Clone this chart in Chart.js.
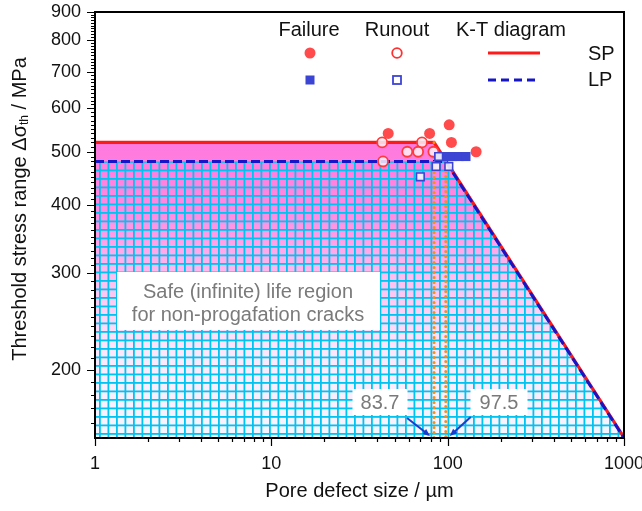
<!DOCTYPE html>
<html>
<head>
<meta charset="utf-8">
<script src="https://cdn.jsdelivr.net/npm/chart.js@4.4.1/dist/chart.umd.min.js"></script>
<style>
  html, body { margin: 0; padding: 0; background: #fff; }
  #wrap { width: 642px; height: 511px; }
</style>
</head>
<body>
<div id="wrap"><canvas id="kt" width="642" height="511"></canvas></div>
<script>
// Kitagawa-Takahashi diagram, SP vs LP specimens
const spKnee = 83.7;
const lpKnee = 97.5;
const spLineX = [1, spKnee, 1000];
const spLineY = [520, 520, 150.4];
const lpLineX = [1, lpKnee, 1000];
const lpLineY = [480, 480, 150];

const spFailX = [46, 79, 102, 105, 145];
const spFailY = [540, 540, 560, 520, 500];
const spRunX = [42.5, 71.5, 59, 68, 83, 43];
const spRunY = [520, 520, 500, 500, 500, 480];
const lpFailX = [89, 97, 106, 116, 127];
const lpFailY = [490, 490, 490, 490, 490];
const lpRunX = [89, 86, 101.5, 70];
const lpRunY = [490, 470, 470, 450];

const xMajor = [1, 10, 100, 1000];
const yMajor = [200, 300, 400, 500, 600, 700, 800, 900];

const xTicks = [];
for (let d = 1; d < 1000; d *= 10) for (let k = 1; k < 10; k++) xTicks.push(d * k);
xTicks.push(1000);
const yTicks = [];
for (let v = 160; v <= 900; v += 10) yTicks.push(v);

const FONT = "'Liberation Sans', Arial, sans-serif";
const RED = '#ff1a1a', BLUE = '#1616c8', PT_RED = 'rgba(255,60,60,0.92)', PT_BLUE = '#3c44d4';

const pts = (xs, ys) => xs.map((x, i) => ({ x, y: ys[i] }));

function pinkFill(c) {
  const a = c.chart.chartArea;
  if (!a) return null;
  const g = c.chart.ctx.createLinearGradient(0, a.top, 0, a.bottom);
  g.addColorStop(0.30, '#ff78de');
  g.addColorStop(0.47, '#ff8ae2');
  g.addColorStop(0.63, '#fcc0f0');
  g.addColorStop(0.80, '#fbe7fc');
  g.addColorStop(1.00, '#f5f5ff');
  return g;
}

let gridPat = null;
function gridFill(c) {
  const a = c.chart.chartArea;
  if (!a) return null;
  if (!gridPat) {
    const t = document.createElement('canvas');
    t.width = 17; t.height = 17;
    const g = t.getContext('2d');
    g.fillStyle = 'rgb(0,196,240)';
    g.fillRect(0, 0, 1.8, 17); g.fillRect(8.5, 0, 1.8, 17);
    g.fillRect(0, 0, 17, 1.8); g.fillRect(0, 8.5, 17, 1.8);
    gridPat = c.chart.ctx.createPattern(t, 'repeat');
    gridPat.setTransform(new DOMMatrix().translate(a.left + 4, a.bottom - 5));
  }
  return gridPat;
}

function arrow(ctx, x0, y0, x1, y1) {
  const ang = Math.atan2(y1 - y0, x1 - x0), h = 8;
  ctx.beginPath(); ctx.moveTo(x0, y0);
  ctx.lineTo(x1 - Math.cos(ang) * h * 0.8, y1 - Math.sin(ang) * h * 0.8); ctx.stroke();
  ctx.beginPath(); ctx.moveTo(x1, y1);
  ctx.lineTo(x1 - h * Math.cos(ang - 0.4), y1 - h * Math.sin(ang - 0.4));
  ctx.lineTo(x1 - h * Math.cos(ang + 0.4), y1 - h * Math.sin(ang + 0.4));
  ctx.closePath(); ctx.fill();
}

function labelBox(ctx, txt, cx, cy, w, h) {
  ctx.fillStyle = '#fff';
  ctx.fillRect(cx - w / 2, cy - h / 2, w, h);
  ctx.fillStyle = '#7a7a7a';
  ctx.textAlign = 'center'; ctx.textBaseline = 'middle';
  ctx.fillText(txt, cx, cy + 1);
}

const deco = {
  id: 'deco',
  afterDatasetsDraw(chart) {
    const { ctx, chartArea: a, scales: { x, y } } = chart;
    ctx.save();

    // notes inside the plot
    ctx.font = `20px ${FONT}`;
    ctx.fillStyle = '#fff';
    ctx.fillRect(117, 272, 263, 58);
    ctx.fillStyle = '#7a7a7a';
    ctx.textAlign = 'center'; ctx.textBaseline = 'middle';
    ctx.fillText('Safe (infinite) life region', 248, 292);
    ctx.fillText('for non-progafation cracks', 248, 315);

    labelBox(ctx, String(spKnee), 380, 402, 55, 26);
    labelBox(ctx, String(lpKnee), 499, 402, 57, 26);

    ctx.strokeStyle = '#1a3ccc'; ctx.fillStyle = '#1a3ccc'; ctx.lineWidth = 2;
    const xs = x.getPixelForValue(spKnee), xl = x.getPixelForValue(lpKnee);
    arrow(ctx, xs - 27, a.bottom - 20, xs - 4, a.bottom - 2);
    arrow(ctx, xl + 25, a.bottom - 21, xl + 4, a.bottom - 2);

    // frame and ticks
    ctx.strokeStyle = '#000';
    ctx.lineWidth = 1.2;
    ctx.beginPath();
    yTicks.forEach(v => {
      const p = Math.round(y.getPixelForValue(v)) + 0.5;
      const len = yMajor.includes(v) ? 8 : 4;
      ctx.moveTo(a.left - len, p); ctx.lineTo(a.left, p);
    });
    xTicks.forEach(v => {
      const p = Math.round(x.getPixelForValue(v)) + 0.5;
      const len = xMajor.includes(v) ? 8 : 4;
      ctx.moveTo(p, a.bottom); ctx.lineTo(p, a.bottom + len);
    });
    ctx.stroke();
    ctx.lineWidth = 2;
    ctx.strokeRect(a.left, a.top, a.right - a.left, a.bottom - a.top);

    // legend
    ctx.fillStyle = '#111';
    ctx.font = `20px ${FONT}`;
    ctx.textAlign = 'center'; ctx.textBaseline = 'middle';
    ctx.fillText('Failure', 309, 30);
    ctx.fillText('Runout', 397, 30);
    ctx.fillText('K-T diagram', 511, 30);
    ctx.textAlign = 'left';
    ctx.fillText('SP', 588, 54);
    ctx.fillText('LP', 588, 80);

    ctx.fillStyle = PT_RED;
    ctx.beginPath(); ctx.arc(310, 53, 5.5, 0, Math.PI * 2); ctx.fill();
    ctx.strokeStyle = '#ff3030'; ctx.lineWidth = 1.8; ctx.fillStyle = '#fff';
    ctx.beginPath(); ctx.arc(397, 53, 4.8, 0, Math.PI * 2); ctx.fill(); ctx.stroke();
    ctx.fillStyle = PT_BLUE;
    ctx.fillRect(305.5, 75.5, 9, 9);
    ctx.strokeStyle = PT_BLUE; ctx.fillStyle = '#fff';
    ctx.fillRect(393, 76, 8, 8); ctx.strokeRect(393, 76, 8, 8);
    ctx.lineWidth = 3;
    ctx.strokeStyle = RED;
    ctx.beginPath(); ctx.moveTo(488, 53); ctx.lineTo(540, 53); ctx.stroke();
    ctx.strokeStyle = BLUE; ctx.setLineDash([8, 5]);
    ctx.beginPath(); ctx.moveTo(488, 80); ctx.lineTo(540, 80); ctx.stroke();
    ctx.setLineDash([]);

    // axis titles
    ctx.fillStyle = '#111';
    ctx.textAlign = 'center'; ctx.textBaseline = 'middle';
    ctx.font = `20px ${FONT}`;
    ctx.fillText('Pore defect size / \u00b5m', (a.left + a.right) / 2, 491);

    ctx.translate(20, 209);
    ctx.rotate(-Math.PI / 2);
    const p1 = 'Threshold stress range \u0394\u03c3', p2 = 'th', p3 = ' / MPa';
    ctx.font = `20px ${FONT}`;
    const w1 = ctx.measureText(p1).width, w3 = ctx.measureText(p3).width;
    ctx.font = `12px ${FONT}`;
    const w2 = ctx.measureText(p2).width;
    let sx = -(w1 + w2 + w3) / 2;
    ctx.textAlign = 'left';
    ctx.font = `20px ${FONT}`;
    ctx.fillText(p1, sx, 0); sx += w1;
    ctx.font = `12px ${FONT}`;
    ctx.fillText(p2, sx, 5); sx += w2;
    ctx.font = `20px ${FONT}`;
    ctx.fillText(p3, sx, 0);
    ctx.restore();
  }
};

const datasets = [
  { label: 'LP runout', data: pts(lpRunX, lpRunY), order: 0, pointStyle: 'rect', pointRadius: 5.4,
    backgroundColor: 'rgba(245,245,255,0.9)', borderColor: PT_BLUE, borderWidth: 1.6 },
  { label: 'LP failure', data: pts(lpFailX, lpFailY), order: 1, pointStyle: 'rect', pointRadius: 6.4,
    backgroundColor: PT_BLUE, borderColor: PT_BLUE, borderWidth: 0 },
  { label: 'SP runout', data: pts(spRunX, spRunY), order: 2, pointStyle: 'circle', pointRadius: 5,
    backgroundColor: 'rgba(255,240,248,0.85)', borderColor: '#ff3a3a', borderWidth: 1.8 },
  { label: 'SP failure', data: pts(spFailX, spFailY), order: 3, pointStyle: 'circle', pointRadius: 5.5,
    backgroundColor: PT_RED, borderWidth: 0 },
  { type: 'line', label: 'SP knee', data: [{ x: spKnee, y: 520 }, { x: spKnee, y: 150 }], order: 4,
    borderColor: '#ff8c10', borderWidth: 3, borderDash: [0, 5], borderCapStyle: 'round', pointRadius: 0, fill: false },
  { type: 'line', label: 'LP knee', data: [{ x: lpKnee, y: 480 }, { x: lpKnee, y: 150 }], order: 4,
    borderColor: '#ff8c10', borderWidth: 3, borderDash: [0, 5], borderCapStyle: 'round', pointRadius: 0, fill: false },
  { type: 'line', label: 'LP', data: pts(lpLineX, lpLineY), order: 5, borderColor: BLUE, borderWidth: 3,
    borderDash: [9, 4], pointRadius: 0, fill: false },
  { type: 'line', label: 'SP', data: pts(spLineX, spLineY), order: 6, borderColor: RED, borderWidth: 3.2,
    pointRadius: 0, fill: false },
  { type: 'line', label: 'LP region', data: pts(lpLineX, lpLineY), order: 7, borderWidth: 0,
    pointRadius: 0, fill: 'start', backgroundColor: gridFill },
  { type: 'line', label: 'SP region', data: pts(spLineX, spLineY), order: 8, borderWidth: 0,
    pointRadius: 0, fill: 'start', backgroundColor: pinkFill }
];

new Chart(document.getElementById('kt'), {
  type: 'scatter',
  data: { datasets },
  plugins: [deco],
  options: {
    responsive: false,
    animation: false,
    layout: { padding: { top: 12, right: 18, left: 0, bottom: 0 } },
    plugins: { legend: { display: false }, tooltip: { enabled: false } },
    scales: {
      x: {
        type: 'logarithmic', min: 1, max: 1000,
        grid: { display: false, drawTicks: false }, border: { display: false },
        afterFit: s => { s.height = 73; s.paddingLeft = 0; s.paddingRight = 0; },
        afterBuildTicks: s => { s.ticks = xTicks.map(v => ({ value: v })); },
        ticks: { autoSkip: false, maxRotation: 0, padding: 15, color: '#111', font: { family: FONT, size: 18 },
          callback: v => xMajor.includes(v) ? String(v) : '' }
      },
      y: {
        type: 'logarithmic', min: 150, max: 900,
        grid: { display: false, drawTicks: false }, border: { display: false },
        afterFit: s => { s.width = 95; s.paddingTop = 0; s.paddingBottom = 0; },
        afterBuildTicks: s => { s.ticks = yTicks.map(v => ({ value: v })); },
        ticks: { autoSkip: false, padding: 14, color: '#111', font: { family: FONT, size: 18 },
          callback: v => yMajor.includes(v) ? String(v) : '' }
      }
    }
  }
});
</script>
</body>
</html>
